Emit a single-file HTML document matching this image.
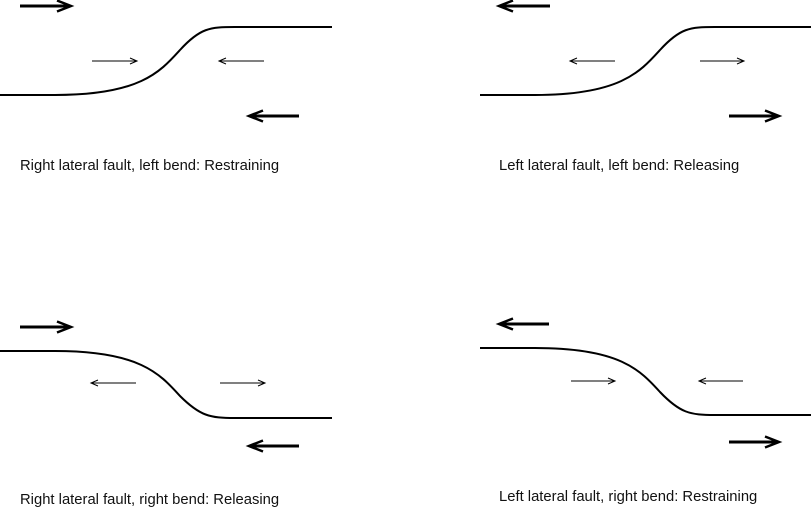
<!DOCTYPE html>
<html><head><style>
html,body{margin:0;padding:0;background:#fff;}
svg{display:block;}
text{font-family:"Liberation Sans",sans-serif;font-size:14.8px;fill:#111;}
</style></head><body>
<svg width="811" height="509" viewBox="0 0 811 509" xmlns="http://www.w3.org/2000/svg">
<defs>
<marker id="big" markerWidth="10" markerHeight="10" refX="9" refY="5" orient="auto" markerUnits="userSpaceOnUse" viewBox="0 0 10 10" overflow="visible">
<path d="M-4,-0.5 L10,5 L-4,10.5" fill="none" stroke="#000" stroke-width="2.5"/>
</marker>
<marker id="sm" markerWidth="10" markerHeight="10" refX="9" refY="5" orient="auto" markerUnits="userSpaceOnUse" viewBox="0 0 10 10" overflow="visible">
<path d="M3,2 L10,5 L3,8" fill="none" stroke="#000" stroke-width="1"/>
</marker>
</defs>
<g fill="none" stroke="#000">
<path d="M0,95 L55,95 C140,95 160,72 180,50 C200,28 210,27 235,27 L332,27" stroke-width="2"/>
<line x1="20" y1="6" x2="70" y2="6" stroke-width="3" marker-end="url(#big)"/>
<line x1="92" y1="61" x2="136" y2="61" stroke-width="1" marker-end="url(#sm)"/>
<line x1="264" y1="61" x2="220" y2="61" stroke-width="1" marker-end="url(#sm)"/>
<line x1="299" y1="116" x2="250" y2="116" stroke-width="3" marker-end="url(#big)"/>
<path d="M480,95 L535,95 C620,95 640,72 660,50 C680,28 690,27 715,27 L812,27" stroke-width="2"/>
<line x1="550" y1="6" x2="500" y2="6" stroke-width="3" marker-end="url(#big)"/>
<line x1="615" y1="61" x2="571" y2="61" stroke-width="1" marker-end="url(#sm)"/>
<line x1="700" y1="61" x2="743" y2="61" stroke-width="1" marker-end="url(#sm)"/>
<line x1="729" y1="116" x2="778" y2="116" stroke-width="3" marker-end="url(#big)"/>
<path d="M0,351 L55,351 C140,351 160,374 180,396 C200,416 210,418 235,418 L332,418" stroke-width="2"/>
<line x1="20" y1="327" x2="70" y2="327" stroke-width="3" marker-end="url(#big)"/>
<line x1="136" y1="383" x2="92" y2="383" stroke-width="1" marker-end="url(#sm)"/>
<line x1="220" y1="383" x2="264" y2="383" stroke-width="1" marker-end="url(#sm)"/>
<line x1="299" y1="446" x2="250" y2="446" stroke-width="3" marker-end="url(#big)"/>
<path d="M480,348 L535,348 C620,348 640,370 660,392 C680,413 690,415 715,415 L812,415" stroke-width="2"/>
<line x1="549" y1="324" x2="500" y2="324" stroke-width="3" marker-end="url(#big)"/>
<line x1="571" y1="381" x2="614" y2="381" stroke-width="1" marker-end="url(#sm)"/>
<line x1="743" y1="381" x2="700" y2="381" stroke-width="1" marker-end="url(#sm)"/>
<line x1="729" y1="442" x2="778" y2="442" stroke-width="3" marker-end="url(#big)"/>
</g>
<text x="20" y="170">Right lateral fault, left bend: Restraining</text>
<text x="499" y="170">Left lateral fault, left bend: Releasing</text>
<text x="20" y="504">Right lateral fault, right bend: Releasing</text>
<text x="499" y="501">Left lateral fault, right bend: Restraining</text>
</svg>
</body></html>
